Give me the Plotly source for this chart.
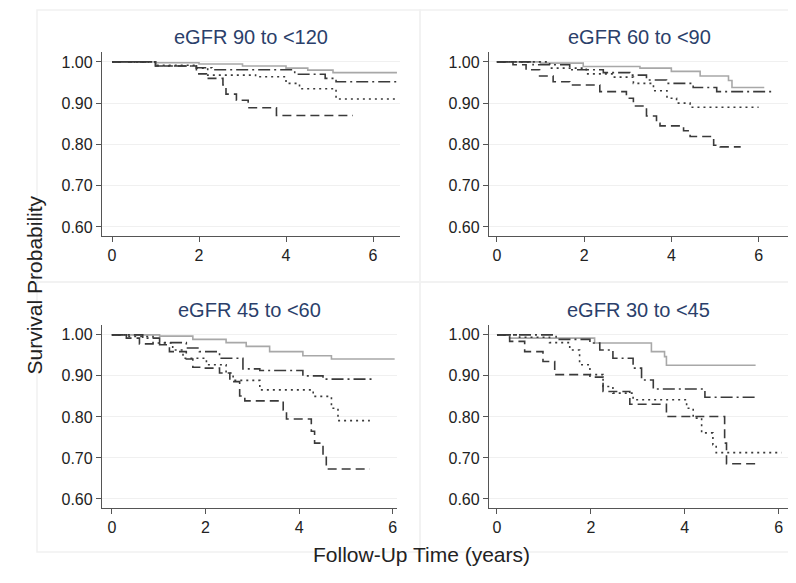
import plotly.graph_objects as go
from plotly.subplots import make_subplots

panel_titles = ["eGFR 90 to <120", "eGFR 60 to <90", "eGFR 45 to <60", "eGFR 30 to <45"]

# Panel 1: eGFR 90 to <120
p1_a_t = [0, 1.0, 2.0, 3.0, 4.0, 4.5, 5.08, 6.55]
p1_a_v = [1.0, 0.998, 0.995, 0.99, 0.985, 0.98, 0.974, 0.974]
p1_b_t = [0, 1.0, 1.94, 2.3, 4.2, 4.9, 5.15, 6.55]
p1_b_v = [1.0, 0.99, 0.986, 0.981, 0.97, 0.96, 0.952, 0.952]
p1_c_t = [0, 1.0, 1.94, 2.2, 3.3, 4.0, 4.31, 5.15, 6.55]
p1_c_v = [1.0, 0.992, 0.985, 0.968, 0.964, 0.948, 0.935, 0.91, 0.91]
p1_d_t = [0, 1.0, 1.94, 2.17, 2.55, 2.62, 2.86, 3.13, 3.78, 5.54]
p1_d_v = [1.0, 0.99, 0.971, 0.96, 0.944, 0.922, 0.907, 0.889, 0.87, 0.87]

# Panel 2: eGFR 60 to <90
p2_a_t = [0, 1.0, 1.98, 3.28, 4.0, 4.66, 5.31, 5.39, 6.13]
p2_a_v = [1.0, 0.997, 0.989, 0.985, 0.977, 0.966, 0.955, 0.938, 0.938]
p2_b_t = [0, 0.83, 1.67, 2.44, 3.05, 3.43, 3.89, 4.5, 5.04, 6.36]
p2_b_v = [1.0, 0.993, 0.981, 0.974, 0.968, 0.956, 0.948, 0.938, 0.928, 0.928]
p2_c_t = [0, 1.21, 2.05, 2.67, 3.13, 3.59, 3.9, 4.12, 4.43, 6.0]
p2_c_v = [1.0, 0.985, 0.971, 0.963, 0.948, 0.93, 0.912, 0.9, 0.89, 0.89]
p2_d_t = [0, 0.37, 0.67, 0.98, 1.29, 1.67, 2.36, 2.97, 3.13, 3.43, 3.66, 3.74, 4.28, 4.43, 4.97, 5.12, 5.59]
p2_d_v = [1.0, 0.993, 0.981, 0.966, 0.952, 0.944, 0.928, 0.912, 0.893, 0.869, 0.851, 0.845, 0.833, 0.819, 0.798, 0.794, 0.794]

# Panel 3: eGFR 45 to <60
p3_a_t = [0, 1.02, 1.73, 2.44, 2.87, 3.37, 4.08, 4.69, 6.04]
p3_a_v = [1.0, 0.997, 0.989, 0.981, 0.972, 0.959, 0.949, 0.941, 0.941]
p3_b_t = [0, 0.66, 1.02, 1.59, 1.87, 2.3, 2.8, 3.16, 4.08, 4.51, 5.62]
p3_b_v = [1.0, 0.992, 0.981, 0.968, 0.959, 0.943, 0.917, 0.913, 0.9, 0.892, 0.892]
p3_c_t = [0, 0.31, 0.88, 1.3, 1.52, 2.02, 2.44, 2.59, 3.16, 4.3, 4.69, 4.83, 5.51]
p3_c_v = [1.0, 0.996, 0.98, 0.963, 0.943, 0.927, 0.907, 0.889, 0.866, 0.85, 0.821, 0.791, 0.791]
p3_d_t = [0, 0.31, 0.59, 1.02, 1.23, 1.59, 1.73, 1.95, 2.3, 2.52, 2.73, 2.84, 3.66, 3.73, 4.26, 4.33, 4.51, 4.58, 5.51]
p3_d_v = [1.0, 0.992, 0.978, 0.976, 0.959, 0.941, 0.921, 0.919, 0.907, 0.886, 0.851, 0.839, 0.817, 0.795, 0.765, 0.736, 0.708, 0.673, 0.673]

# Panel 4: eGFR 30 to <45
p4_a_t = [0, 0.27, 2.08, 3.29, 3.57, 3.61, 5.51]
p4_a_v = [1.0, 0.992, 0.98, 0.959, 0.947, 0.926, 0.926]
p4_b_t = [0, 1.26, 1.98, 2.19, 2.47, 2.9, 3.08, 3.33, 4.43, 5.49]
p4_b_v = [1.0, 0.989, 0.98, 0.963, 0.943, 0.919, 0.89, 0.868, 0.848, 0.848]
p4_c_t = [0, 0.48, 1.12, 1.55, 1.76, 1.98, 2.26, 2.47, 2.9, 4.04, 4.18, 4.36, 4.6, 4.67, 6.06]
p4_c_v = [1.0, 0.994, 0.981, 0.963, 0.927, 0.903, 0.874, 0.858, 0.842, 0.821, 0.797, 0.761, 0.732, 0.713, 0.713]
p4_d_t = [0, 0.27, 0.59, 0.98, 1.23, 1.98, 2.26, 2.83, 3.61, 4.85, 4.89, 5.6]
p4_d_v = [1.0, 0.984, 0.959, 0.935, 0.903, 0.897, 0.862, 0.831, 0.801, 0.736, 0.686, 0.686]

y_ticks = [0.6, 0.7, 0.8, 0.9, 1.0]
y_tick_labels = ["0.60", "0.70", "0.80", "0.90", "1.00"]
x_ticks = [0, 2, 4, 6]

panels = [
    [(p1_a_t, p1_a_v), (p1_b_t, p1_b_v), (p1_c_t, p1_c_v), (p1_d_t, p1_d_v)],
    [(p2_a_t, p2_a_v), (p2_b_t, p2_b_v), (p2_c_t, p2_c_v), (p2_d_t, p2_d_v)],
    [(p3_a_t, p3_a_v), (p3_b_t, p3_b_v), (p3_c_t, p3_c_v), (p3_d_t, p3_d_v)],
    [(p4_a_t, p4_a_v), (p4_b_t, p4_b_v), (p4_c_t, p4_c_v), (p4_d_t, p4_d_v)],
]

styles = [
    dict(color="#a8a8a8", width=1.6, dash="solid"),
    dict(color="#3a3a3a", width=1.6, dash="12px,4px,2px,4px"),
    dict(color="#3a3a3a", width=1.6, dash="2px,4px"),
    dict(color="#3a3a3a", width=1.6, dash="9px,5px"),
]

# page body has an 8px margin; figure sized to fit the window
OFF = 8
W, H = 788, 575


def fx(px):
    return (px - OFF) / W


def fy(py):
    return 1 - (py - OFF) / H


fig = make_subplots(rows=2, cols=2)

# screen-pixel geometry of each plot area: (left, right, top, bottom)
geom = [(102, 400, 52, 236), (489, 790, 52, 236), (102, 397, 325, 508), (489, 788, 325, 508)]
xranges = [[-0.23, 6.62], [-0.18, 6.72], [-0.21, 6.09], [-0.17, 6.2]]
yrange = [0.578, 1.024]

for i, series in enumerate(panels):
    r, c = i // 2 + 1, i % 2 + 1
    for (t, v), st in zip(series, styles):
        fig.add_trace(go.Scatter(x=t, y=v, mode="lines", line=dict(shape="hv", **st),
                                 showlegend=False, hoverinfo="skip"), row=r, col=c)

for i in range(4):
    l, rgt, top, bot = geom[i]
    xa = "xaxis" if i == 0 else f"xaxis{i+1}"
    ya = "yaxis" if i == 0 else f"yaxis{i+1}"
    fig.layout[xa].update(domain=[fx(l), fx(rgt)], range=xranges[i], tickvals=x_ticks,
                          showline=True, linecolor="#555", linewidth=1.3, ticks="outside",
                          ticklen=5, tickcolor="#555", showgrid=False, zeroline=False,
                          tickfont=dict(size=16, color="#222"))
    fig.layout[ya].update(domain=[fy(bot), fy(top)], range=yrange, tickvals=y_ticks,
                          ticktext=y_tick_labels, showline=True, linecolor="#555", linewidth=1.3,
                          ticks="outside", ticklen=5, tickcolor="#555", showgrid=True,
                          gridcolor="#f0f0f0", gridwidth=1, zeroline=False,
                          tickfont=dict(size=16, color="#222"))
    fig.add_annotation(text=panel_titles[i], x=fx((l + rgt) / 2), y=fy(37 if i < 2 else 310),
                       xref="paper", yref="paper", showarrow=False,
                       font=dict(size=20, color="#2b3f6b"), xanchor="center", yanchor="middle")

# faint panel frames
frames = [(37, 420, 10, 282), (420, 800, 10, 282), (37, 420, 282, 552), (420, 800, 282, 552)]
for (x0, x1, y0, y1) in frames:
    fig.add_shape(type="rect", xref="paper", yref="paper", x0=fx(x0), x1=fx(x1),
                  y0=fy(y1), y1=fy(y0), line=dict(color="#f1f1f1", width=1.5), layer="below")

fig.add_annotation(text="Survival Probability", x=fx(20), y=fy(285), xref="paper", yref="paper",
                   showarrow=False, textangle=-90, font=dict(size=21, color="#222"))
fig.add_annotation(text="Follow-Up Time (years)", x=fx(421), y=fy(568), xref="paper", yref="paper",
                   showarrow=False, font=dict(size=21, color="#222"))

fig.update_layout(width=W, height=H, margin=dict(l=0, r=0, t=0, b=0),
                  paper_bgcolor="white", plot_bgcolor="white",
                  font=dict(family="Liberation Sans, Arial, sans-serif"))

fig.write_html("out.html")
